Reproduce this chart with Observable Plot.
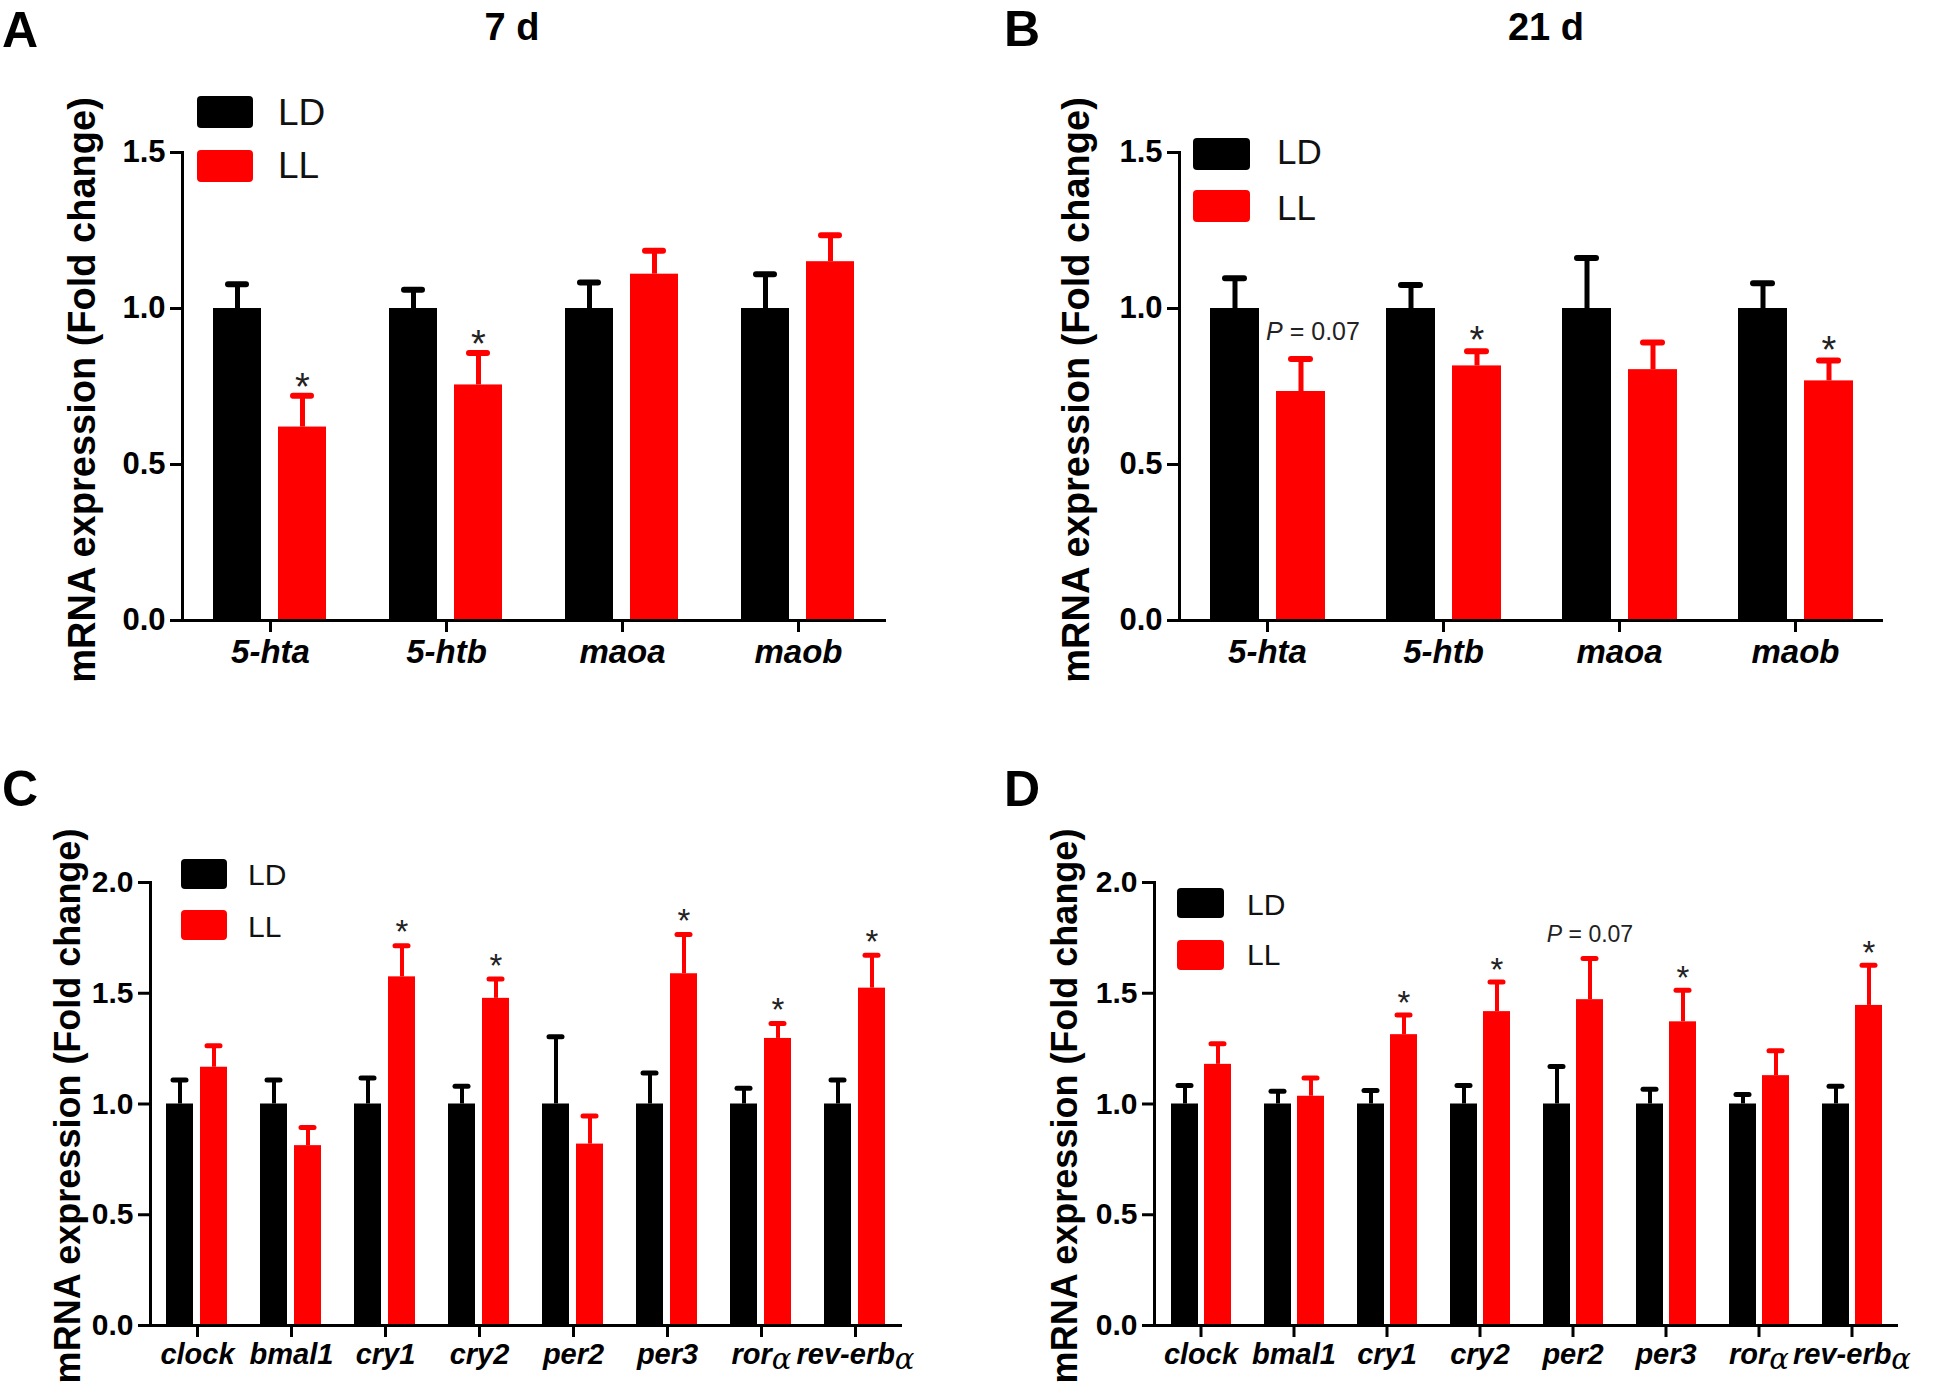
<!DOCTYPE html>
<html>
<head>
<meta charset="utf-8">
<script src="https://cdn.jsdelivr.net/npm/d3@7"></script>
<script src="https://cdn.jsdelivr.net/npm/@observablehq/plot@0.6"></script>
<style>
  html, body { margin: 0; padding: 0; background: #fff; }
  #root { position: relative; width: 1946px; height: 1388px; overflow: hidden; background: #fff; }
  #root svg { position: absolute; }
</style>
</head>
<body>
<div id="root"></div>
<script>
// ---------------- data ----------------
const conditions = ["LD", "LL"];
const conditionColors = ["#000000", "#ff0000"];

// Panels A & B (serotonin-related genes)
const genesAB = ["5-hta", "5-htb", "maoa", "maob"];
const yTicksAB = [0, 0.5, 1.0, 1.5];

const a_ldMean = [1.0, 1.0, 1.0, 1.0];
const a_ldSem  = [0.078, 0.060, 0.083, 0.110];
const a_llMean = [0.620, 0.755, 1.110, 1.150];
const a_llSem  = [0.100, 0.102, 0.075, 0.085];
const a_notes  = ["*", "*", "", ""];

const b_ldMean = [1.0, 1.0, 1.0, 1.0];
const b_ldSem  = [0.097, 0.075, 0.162, 0.081];
const b_llMean = [0.734, 0.816, 0.804, 0.768];
const b_llSem  = [0.104, 0.047, 0.087, 0.065];
const b_notes  = ["P = 0.07", "*", "", "*"];

// Panels C & D (clock genes)
const genesCD = ["clock", "bmal1", "cry1", "cry2", "per2", "per3", "rorα", "rev-erbα"];
const yTicksCD = [0, 0.5, 1.0, 1.5, 2.0];

const c_ldMean = [1.0, 1.0, 1.0, 1.0, 1.0, 1.0, 1.0, 1.0];
const c_ldSem  = [0.108, 0.108, 0.117, 0.080, 0.304, 0.140, 0.071, 0.108];
const c_llMean = [1.166, 0.812, 1.574, 1.477, 0.819, 1.588, 1.296, 1.523];
const c_llSem  = [0.097, 0.082, 0.141, 0.087, 0.127, 0.177, 0.067, 0.149];
const c_notes  = ["", "", "*", "*", "", "*", "*", "*"];

const d_ldMean = [1.0, 1.0, 1.0, 1.0, 1.0, 1.0, 1.0, 1.0];
const d_ldSem  = [0.084, 0.058, 0.061, 0.084, 0.169, 0.067, 0.043, 0.080];
const d_llMean = [1.179, 1.035, 1.313, 1.417, 1.471, 1.371, 1.128, 1.445];
const d_llSem  = [0.093, 0.082, 0.089, 0.134, 0.186, 0.143, 0.112, 0.181];
const d_notes  = ["", "", "*", "*", "P = 0.07", "*", "", "*"];

const yTitle = "mRNA expression (Fold change)";
const panelTitles = ["7 d", "21 d"];
const panelLetters = ["A", "B", "C", "D"];

// ---------------- helpers ----------------
const FONT = "'Liberation Sans', Arial, Helvetica, sans-serif";

function buildRows(genes, ldMean, ldSem, llMean, llSem, notes) {
  const rows = [];
  genes.forEach((g, i) => {
    rows.push({gene: g, cond: conditions[0], mean: ldMean[i], sem: ldSem[i], note: ""});
    rows.push({gene: g, cond: conditions[1], mean: llMean[i], sem: llSem[i], note: notes[i]});
  });
  return rows;
}

function postProcess(svg) {
  d3.select(svg).selectAll("text").each(function () {
    const t = this.textContent;
    const sel = d3.select(this);
    if (t.startsWith("P = ")) {
      sel.text(null);
      sel.append("tspan").attr("font-style", "italic").text("P");
      sel.append("tspan").text(t.slice(1));
    } else if (t.endsWith("α") && t.length > 1) {
      sel.text(null);
      sel.append("tspan").text(t.slice(0, -1));
      sel.append("tspan")
        .attr("font-weight", "normal")
        .attr("font-family", "'DejaVu Serif', serif")
        .attr("font-style", "italic")
        .attr("dy", "0.18em")
        .text("α");
    }
  });
}

function panel(cfg) {
  const rows = buildRows(cfg.genes, cfg.ldMean, cfg.ldSem, cfg.llMean, cfg.llSem, cfg.notes);
  const top = d => d.mean + d.sem;
  const chart = Plot.plot({
    width: cfg.width,
    height: cfg.height,
    marginLeft: cfg.ml,
    marginRight: cfg.mr,
    marginTop: cfg.mt,
    marginBottom: cfg.mb,
    style: {fontFamily: FONT, color: "#000", background: "transparent", overflow: "visible"},
    fx: {domain: cfg.genes, padding: 0, label: null},
    x: {domain: conditions, paddingInner: cfg.pi, paddingOuter: cfg.po, axis: null},
    y: {domain: [0, d3.max(cfg.yTicks)], axis: null},
    color: {domain: conditions, range: conditionColors},
    marks: [
      Plot.barY(rows, {fx: "gene", x: "cond", y: "mean", fill: "cond"}),
      Plot.ruleX(rows, {fx: "gene", x: "cond", y1: "mean", y2: top, stroke: "cond", strokeWidth: cfg.stem}),
      Plot.tickY(rows, {fx: "gene", x: "cond", y: top, stroke: "cond", strokeWidth: cfg.cap,
        strokeLinecap: "round", insetLeft: cfg.capInset, insetRight: cfg.capInset}),
      Plot.text(rows, {filter: d => d.note === "*", fx: "gene", x: "cond", y: top, text: "note",
        dy: cfg.starDy, fontSize: cfg.starSize, fill: "#222"}),
      Plot.text(rows, {filter: d => d.note.startsWith("P"), fx: "gene", x: "cond", y: top, text: "note",
        dy: cfg.pDy, dx: cfg.pDx, fontSize: cfg.pSize, fill: "#222"}),
      Plot.ruleY([0], {strokeWidth: 3}),
      Plot.frame({anchor: "left", facetAnchor: "left", strokeWidth: 3}),
      Plot.axisY({ticks: cfg.yTicks, tickFormat: d3.format(".1f"), tickSize: 12, tickPadding: 5,
        strokeWidth: 3, fontSize: cfg.yTickSize, fontWeight: "bold", label: null}),
      Plot.axisFx({anchor: "bottom", tickSize: 12, tickPadding: cfg.xPad, strokeWidth: 3,
        fontSize: cfg.xTickSize, fontWeight: "bold", fontStyle: "italic", label: null})
    ]
  });
  chart.style.left = cfg.left + "px";
  chart.style.top = cfg.top + "px";
  postProcess(chart);
  return chart;
}

const root = document.getElementById("root");

const panelsCfg = [
  {genes: genesAB, ldMean: a_ldMean, ldSem: a_ldSem, llMean: a_llMean, llSem: a_llSem, notes: a_notes,
   yTicks: yTicksAB, left: 0, top: 0, width: 900, height: 700, ml: 180, mr: 13, mt: 152, mb: 80,
   pi: 0.2576, po: 0.468, stem: 5, cap: 6, capInset: 15, starDy: -8, starSize: 38, pDy: -26, pDx: 0, pSize: 25,
   yTickSize: 31, xTickSize: 33, xPad: 7},
  {genes: genesAB, ldMean: b_ldMean, ldSem: b_ldSem, llMean: b_llMean, llSem: b_llSem, notes: b_notes,
   yTicks: yTicksAB, left: 1000, top: 0, width: 946, height: 700, ml: 179, mr: 63, mt: 152, mb: 80,
   pi: 0.2576, po: 0.46, stem: 5, cap: 6, capInset: 15, starDy: -10, starSize: 38, pDy: -27, pDx: 12, pSize: 25,
   yTickSize: 31, xTickSize: 33, xPad: 7},
  {genes: genesCD, ldMean: c_ldMean, ldSem: c_ldSem, llMean: c_llMean, llSem: c_llSem, notes: c_notes,
   yTicks: yTicksCD, left: 0, top: 720, width: 960, height: 668, ml: 149, mr: 58, mt: 162, mb: 63,
   pi: 0.2, po: 0.444, stem: 4, cap: 5, capInset: 7, starDy: -13, starSize: 33, pDy: -24, pDx: 0, pSize: 23,
   yTickSize: 30, xTickSize: 29, xPad: 6},
  {genes: genesCD, ldMean: d_ldMean, ldSem: d_ldSem, llMean: d_llMean, llSem: d_llSem, notes: d_notes,
   yTicks: yTicksCD, left: 1000, top: 720, width: 946, height: 668, ml: 153, mr: 47, mt: 162, mb: 63,
   pi: 0.19, po: 0.467, stem: 4, cap: 5, capInset: 7, starDy: -12, starSize: 33, pDy: -24, pDx: 0, pSize: 23,
   yTickSize: 30, xTickSize: 29, xPad: 6}
];
panelsCfg.forEach(cfg => root.appendChild(panel(cfg)));

// ---------------- overlay: letters, titles, legends, y titles ----------------
const overlay = d3.select(root).append("svg")
  .attr("width", 1946).attr("height", 1388)
  .style("left", "0px").style("top", "0px")
  .attr("font-family", FONT);

const letterPos = [[2, 47], [1004, 46], [2, 806], [1004, 806]];
panelLetters.forEach((L, i) => {
  overlay.append("text").attr("x", letterPos[i][0]).attr("y", letterPos[i][1])
    .attr("font-size", 50).attr("font-weight", "bold").text(L);
});

const titlePos = [[512, 40], [1546, 40]];
panelTitles.forEach((t, i) => {
  overlay.append("text").attr("x", titlePos[i][0]).attr("y", titlePos[i][1])
    .attr("text-anchor", "middle").attr("font-size", 38).attr("font-weight", "bold").text(t);
});

// legends: [boxX, boxY(LD), boxY(LL), boxW, boxH, textX, baseLD, baseLL, fontSize]
const legendPos = [
  [197, 96, 150, 56, 32, 278, 125, 178, 37],
  [1193, 138, 190, 57, 32, 1277, 164, 220, 35],
  [181, 859, 910, 46, 30, 248, 885, 937, 30],
  [1177, 888, 940, 47, 30, 1247, 915, 965, 30]
];
legendPos.forEach(p => {
  conditions.forEach((c, j) => {
    overlay.append("rect").attr("x", p[0]).attr("y", j === 0 ? p[1] : p[2])
      .attr("width", p[3]).attr("height", p[4]).attr("rx", 4)
      .attr("fill", conditionColors[j]);
    overlay.append("text").attr("x", p[5]).attr("y", j === 0 ? p[6] : p[7])
      .attr("font-size", p[8]).attr("fill", "#111").text(c);
  });
});

// rotated y-axis titles: [baselineX, centerY, fontSize]
const yTitlePos = [[95, 390, 38], [1089, 390, 38], [80, 1106, 36], [1077, 1106, 36]];
yTitlePos.forEach(p => {
  overlay.append("text")
    .attr("transform", `translate(${p[0]},${p[1]}) rotate(-90)`)
    .attr("text-anchor", "middle").attr("font-size", p[2]).attr("font-weight", "bold")
    .text(yTitle);
});
</script>
</body>
</html>
